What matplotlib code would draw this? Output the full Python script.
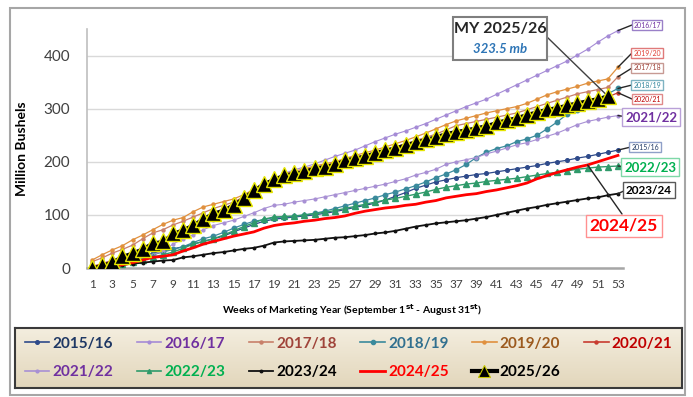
import matplotlib.pyplot as plt
import numpy as np
from matplotlib.lines import Line2D
from matplotlib.patches import Rectangle

plt.rcParams['font.family'] = ['Lato', 'DejaVu Sans']

W, H = 693, 397


def px(x, y):
    # pixel position (from top-left) -> figure fraction
    return x / W, 1 - y / H


weeks = list(range(1, 54))

my_2015 = [0, 3, 6, 9, 14, 22, 28, 32, 36, 40, 45, 50, 55, 60, 68, 75, 82, 88, 92, 94,
           96, 98, 100, 103, 106, 110, 114, 118, 122, 128, 135, 142, 150, 156, 162, 166,
           170, 173, 176, 178, 181, 184, 187, 190, 193, 197, 200, 203, 207, 210, 214, 218, 222]
my_2016 = [0, 8, 15, 22, 30, 38, 45, 52, 60, 68, 75, 82, 90, 100, 110, 122, 135, 150, 165,
           178, 185, 190, 196, 203, 210, 216, 222, 230, 238, 245, 252, 258, 265, 272, 280,
           288, 296, 304, 311, 318, 327, 336, 345, 354, 363, 372, 381, 390, 401, 412, 425, 437, 447]
my_2017 = [12, 19, 28, 35, 43, 55, 66, 72, 81, 88, 96, 104, 112, 118, 124, 134, 146, 158,
           165, 172, 178, 184, 189, 193, 198, 204, 208, 213, 218, 223, 228, 234, 240, 246,
           252, 260, 268, 272, 276, 280, 284, 288, 292, 298, 304, 310, 316, 322, 328, 332,
           336, 340, 360]
my_2018 = [0, 2, 5, 8, 12, 18, 25, 30, 35, 40, 48, 55, 60, 67, 75, 82, 88, 91, 95, 96, 97,
           100, 103, 107, 112, 117, 122, 127, 132, 138, 143, 149, 155, 162, 170, 177, 185,
           195, 208, 218, 225, 230, 238, 243, 250, 262, 275, 290, 298, 308, 318, 328, 338]
my_2019 = [15, 25, 34, 42, 53, 62, 72, 82, 90, 95, 106, 115, 120, 125, 130, 138, 148, 160,
           168, 177, 182, 187, 192, 196, 200, 206, 212, 217, 222, 228, 234, 240, 247, 254,
           262, 270, 277, 282, 287, 292, 296, 300, 304, 310, 318, 326, 332, 337, 342, 348,
           352, 356, 378]
my_2020 = [3, 8, 14, 20, 27, 34, 42, 50, 58, 66, 74, 84, 94, 104, 115, 128, 142, 155, 163,
           170, 175, 180, 184, 188, 193, 199, 204, 209, 214, 219, 223, 228, 234, 239, 244,
           249, 254, 258, 262, 266, 271, 276, 280, 285, 290, 295, 299, 304, 309, 313, 318,
           322, 330]
my_2021 = [0, 2, 5, 10, 15, 20, 25, 32, 45, 55, 62, 72, 80, 85, 90, 97, 104, 112, 118, 120,
           124, 127, 130, 134, 138, 142, 146, 150, 154, 158, 163, 168, 175, 180, 186, 195,
           200, 204, 208, 215, 220, 226, 232, 236, 242, 248, 254, 262, 270, 276, 280, 284, 287]
my_2022 = [0, 2, 5, 8, 12, 16, 20, 25, 30, 37, 45, 50, 55, 62, 70, 78, 85, 92, 96, 97, 98,
           100, 102, 105, 108, 112, 116, 120, 124, 128, 131, 135, 139, 143, 148, 152, 155,
           158, 160, 163, 165, 167, 169, 172, 175, 178, 180, 183, 186, 188, 190, 191, 192]
my_2023 = [0, 2, 4, 6, 8, 10, 12, 14, 15, 20, 22, 25, 28, 30, 33, 36, 38, 42, 48, 50, 51,
           52, 53, 55, 57, 58, 60, 62, 65, 67, 70, 74, 78, 81, 84, 86, 88, 90, 93, 96, 100,
           104, 108, 112, 115, 119, 122, 125, 128, 131, 133, 137, 140]
my_2024 = [0, 1, 3, 6, 10, 15, 20, 22, 25, 32, 38, 45, 50, 55, 60, 64, 68, 75, 80, 83, 85,
           88, 90, 93, 95, 98, 103, 107, 110, 113, 115, 118, 120, 124, 127, 132, 135, 138,
           140, 144, 147, 151, 155, 160, 168, 174, 180, 185, 190, 194, 200, 206, 212]
my_2025 = [0, 5, 11, 22, 28, 36, 47, 50, 65, 72, 81, 93, 103, 109, 119, 132, 146, 159, 167,
           175, 178, 182, 188, 191, 195, 203, 207, 211, 217, 222, 226, 232, 237, 242, 247,
           253, 257, 260, 264, 268, 274, 279, 283, 289, 294, 299, 302, 307, 311, 315, 319, 323.5]

years = ['2015/16', '2016/17', '2017/18', '2018/19', '2019/20', '2020/21',
         '2021/22', '2022/23', '2023/24', '2024/25', '2025/26']
values = [my_2015, my_2016, my_2017, my_2018, my_2019, my_2020,
          my_2021, my_2022, my_2023, my_2024, my_2025]

# line color, width, marker, marker size, legend text color
styles = {
    '2015/16': ('#2e4a8a', 0.9, 'o', 2.6, '#1f3864'),
    '2016/17': ('#a58bd6', 0.8, 'o', 2.0, '#7030a0'),
    '2017/18': ('#c8806a', 0.9, 'o', 2.2, '#a0443a'),
    '2018/19': ('#3a8a9c', 0.9, 'o', 3.2, '#31708f'),
    '2019/20': ('#e0903e', 0.9, 'o', 2.2, '#9c5a1e'),
    '2020/21': ('#c83c30', 0.9, 'o', 2.2, '#c00000'),
    '2021/22': ('#a890d4', 0.8, 'o', 2.0, '#7030a0'),
    '2022/23': ('#2f9a6a', 1.0, '^', 4.0, '#00b050'),
    '2023/24': ('#111111', 1.3, 'o', 1.8, '#000000'),
    '2024/25': ('#ff0000', 2.0, None, 0, '#ff0000'),
}

fig = plt.figure(figsize=(W / 100, H / 100), dpi=100)
ax = fig.add_axes([87 / W, 1 - 268 / H, (623 - 87) / W, (268 - 29) / H])

legend_handles = []
for year, vals in zip(years, values):
    x = weeks[:len(vals)]
    if year == '2025/26':
        ax.plot(x, vals, color='black', lw=2.2, marker='^', ms=11,
                mfc='black', mec='#e6e600', mew=1.0, zorder=5)
        legend_handles.append(Line2D([], [], color='black', lw=3, marker='^', ms=8,
                                     mfc='black', mec='#c8c800', mew=0.8))
    else:
        color, lw, marker, ms, _ = styles[year]
        ax.plot(x, vals, color=color, lw=lw, marker=marker, ms=ms,
                mfc=color, mec=color, zorder=3)
        legend_handles.append(Line2D([], [], color=color, lw=max(lw, 1.2), marker=marker,
                                     ms=min(ms, 3), mfc=color, mec=color))

ax.set_xlim(0.5, 53.5)
ax.set_ylim(0, 450)
ax.set_yticks([0, 100, 200, 300, 400])
ax.set_xticks(range(1, 54, 2))
ax.tick_params(axis='y', length=0, labelsize=11, labelcolor='#404040', pad=12)
ax.tick_params(axis='x', length=0, labelsize=8.5, labelcolor='#404040', pad=8)
ax.yaxis.grid(True, color='#d9d9d9', lw=1)
ax.set_axisbelow(True)
for side in ('top', 'right'):
    ax.spines[side].set_visible(False)
ax.spines['left'].set_color('#bfbfbf')
ax.spines['left'].set_linewidth(1.2)
ax.spines['bottom'].set_color('#a6a6a6')
ax.spines['bottom'].set_linewidth(1.8)

ax.set_ylabel('Million Bushels', fontsize=10, fontweight='bold')
ax.yaxis.set_label_coords(-0.11, 0.5)
fig.text(*px(352, 310),
         'Weeks of Marketing Year (September 1$^{\\mathbf{st}}$ - August 31$^{\\mathbf{st}}$)',
         ha='center', va='center', fontsize=7.5, fontweight='bold')

# end-of-year labels: text, center x, center y, size, bold, text color, edge color, leader end
end_labels = [
    ('2016/17', 647, 25, 5, False, '#7030a0', '#9a80c8', 632),
    ('2019/20', 647, 53, 5, False, '#e03c31', '#e07a7a', 632),
    ('2017/18', 647, 68, 5, False, '#a0443a', '#c79a94', 632),
    ('2018/19', 647, 85, 5, False, '#31859c', '#7fb3c2', 632),
    ('2020/21', 647, 99, 5, False, '#c00000', '#e08a8a', 632),
    ('2021/22', 651, 117, 9.5, True, '#7030a0', '#b9a0d8', 628),
    ('2015/16', 645, 147, 5, False, '#1f3864', '#8fa0c8', 631),
    ('2022/23', 650, 167, 9.5, True, '#00b050', '#7fd8a8', 628),
    ('2023/24', 649, 190, 8.5, True, '#000000', '#595959', 626),
]
for text, lx, ly, fs, bold, tc, ec, ex in end_labels:
    fig.text(*px(lx, ly), text, ha='center', va='center', fontsize=fs,
             fontweight='bold' if bold else 'normal', color=tc, zorder=6,
             bbox=dict(boxstyle='square,pad=0.25', fc='white', ec=ec, lw=1))
    vals = values[years.index(text)]
    ax.annotate('', xy=(len(vals), vals[-1]), xycoords='data',
                xytext=px(ex, ly), textcoords='figure fraction',
                arrowprops=dict(arrowstyle='-', color='#262626', lw=1,
                                shrinkA=0, shrinkB=0),
                annotation_clip=False)

# 2024/25 label sits below the lines, leader from week 50
fig.text(*px(624, 226), '2024/25', ha='center', va='center', fontsize=12.5,
         fontweight='bold', color='#ff0000', zorder=6,
         bbox=dict(boxstyle='square,pad=0.2', fc='white', ec='#ff9090', lw=1))
ax.annotate('', xy=(50, my_2024[49]), xycoords='data',
            xytext=px(622, 214), textcoords='figure fraction',
            arrowprops=dict(arrowstyle='-', color='#262626', lw=1,
                            shrinkA=0, shrinkB=0),
            annotation_clip=False)

# current year callout
fig.add_artist(Rectangle(px(453, 60), 94 / W, 43 / H, transform=fig.transFigure,
                         fc='white', ec='#7f7f7f', lw=1.5, zorder=6))
fig.text(*px(500, 29), 'MY 2025/26', ha='center', va='center', fontsize=11.5,
         fontweight='bold', color='#262626', zorder=7)
fig.text(*px(500, 49), '323.5 mb', ha='center', va='center', fontsize=9.5,
         fontweight='bold', fontstyle='italic', color='#2e75b6', zorder=7)
ax.annotate('', xy=(52, my_2025[-1]), xycoords='data',
            xytext=px(547, 37), textcoords='figure fraction',
            arrowprops=dict(arrowstyle='-', color='#404040', lw=1,
                            shrinkA=0, shrinkB=0),
            annotation_clip=False)

# legend panel with beige gradient
ax_leg = fig.add_axes([15 / W, 1 - 388 / H, 667 / W, 60 / H])
top = np.array([0xf4, 0xee, 0xdf]) / 255
bottom = np.array([0xe2, 0xd6, 0xbb]) / 255
t = np.linspace(0, 1, 64)[:, None]
grad = (top * (1 - t) + bottom * t)[:, None, :].repeat(2, axis=1)
ax_leg.imshow(grad, extent=[0, 1, 0, 1], aspect='auto', origin='upper')
ax_leg.set_xticks([])
ax_leg.set_yticks([])
for sp in ax_leg.spines.values():
    sp.set_color('#3a3a3a')
    sp.set_linewidth(1.5)

order = [0, 6, 1, 7, 2, 8, 3, 9, 4, 10, 5]
leg = ax_leg.legend([legend_handles[i] for i in order], [years[i] for i in order],
                    loc='center', bbox_to_anchor=(0.5, 0.5), ncol=6, frameon=False,
                    prop={'weight': 'bold', 'size': 11}, handlelength=1.6,
                    handletextpad=0.2, columnspacing=1.55, labelspacing=0.95)
for txt in leg.get_texts():
    year = txt.get_text()
    txt.set_color('#000000' if year == '2025/26' else styles[year][4])

# outer chart frame
fig.add_artist(Rectangle(px(10, 395), 675 / W, 387 / H, transform=fig.transFigure,
                         fill=False, ec='#a6a6a6', lw=1.5))

fig.savefig('out.png', dpi=100)
